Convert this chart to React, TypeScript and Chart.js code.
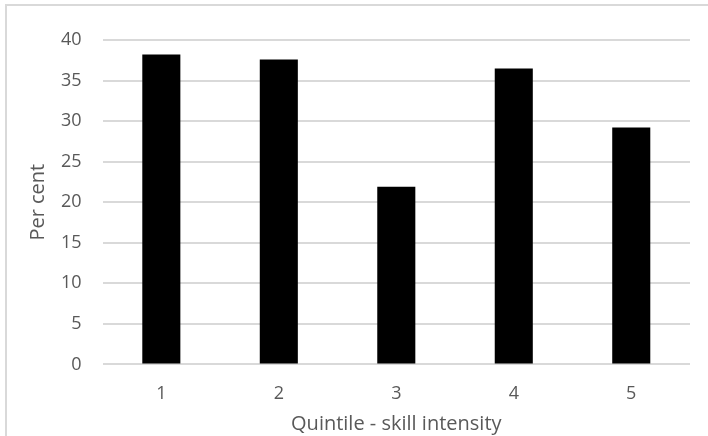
import React, { useEffect, useRef } from "react";
import { Chart, registerables } from "chart.js";

Chart.register(...registerables);

const quintiles = ["1", "2", "3", "4", "5"];
const perCent = [38.2, 37.6, 21.9, 36.5, 29.2];
const yTicks = [0, 5, 10, 15, 20, 25, 30, 35, 40];

const FONT = "'Open Sans', 'Liberation Sans', sans-serif";
const TEXT = "#595959";
const GRID = "#d9d9d9";

export default function App() {
  const ref = useRef<HTMLCanvasElement | null>(null);

  useEffect(() => {
    if (!ref.current) return;
    const chart = new Chart(ref.current, {
      type: "bar",
      data: {
        labels: quintiles,
        datasets: [
          {
            data: perCent,
            backgroundColor: "#000000",
            borderWidth: 0,
            categoryPercentage: 1,
            barPercentage: 0.324,
          },
        ],
      },
      options: {
        animation: false,
        responsive: false,
        maintainAspectRatio: false,
        layout: { padding: { top: 40, right: 18, left: 26, bottom: 0 } },
        plugins: { legend: { display: false }, tooltip: { enabled: false } },
        scales: {
          x: {
            grid: { display: false, drawTicks: false },
            border: { display: false },
            ticks: { color: TEXT, font: { family: FONT, size: 18 }, padding: 19 },
            title: {
              display: true,
              text: "Quintile - skill intensity",
              color: TEXT,
              font: { family: FONT, size: 20 },
              // fit() reserves the tick padding twice; pull the title back in
              padding: { top: -12, bottom: 0 },
            },
          },
          y: {
            min: 0,
            max: 40,
            afterBuildTicks: (axis) => {
              axis.ticks = yTicks.map((v) => ({ value: v }));
            },
            grid: { color: GRID, lineWidth: 2, drawTicks: false },
            border: { display: false },
            ticks: { color: TEXT, font: { family: FONT, size: 18 }, padding: 21 },
            title: {
              display: true,
              text: "Per cent",
              color: TEXT,
              font: { family: FONT, size: 20 },
              padding: { top: 0, bottom: -10 },
            },
          },
        },
      },
    });
    return () => chart.destroy();
  }, []);

  return (
    <div style={{ position: "fixed", left: 0, top: 0, width: 708, height: 436, background: "#fff" }}>
      <div
        style={{
          position: "absolute",
          left: 5,
          top: 4,
          width: 703,
          height: 432,
          borderTop: `2px solid ${GRID}`,
          borderLeft: `2px solid ${GRID}`,
          boxSizing: "border-box",
        }}
      />
      <canvas ref={ref} width={708} height={436} style={{ position: "absolute", left: 0, top: 0 }} />
    </div>
  );
}
